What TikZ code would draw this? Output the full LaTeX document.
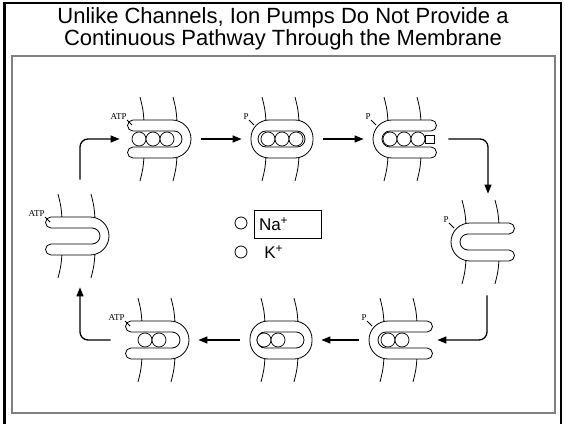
\documentclass[tikz,border=0pt]{standalone}
\usepackage{fontspec}
\setmainfont{Liberation Sans}
\newfontfamily\tagfont{Liberation Serif}
\usepackage{tikz}
\usetikzlibrary{arrows.meta}
\usetikzlibrary{calc}

\tikzset{
	pump/.style={inner sep=0pt, minimum width=62pt, minimum height=84pt},
	tag/.style={inner sep=0pt, anchor=south east, font=\tagfont\fontsize{9}{9}\selectfont},
	bead/.style={fill=white, line width=0.7pt},
	flow/.style={-{Triangle[length=9pt,width=7pt]}, line width=1.3pt, rounded corners=8pt, shorten <=10pt, shorten >=9pt},
	membrane/.pic={
		\draw (-20,42) .. controls (-17,30) .. (-16,18);
		\draw (-16,-18) .. controls (-17,-30) .. (-20,-42);
		\draw (13,42) .. controls (16,30) .. (17,18);
		\draw (17,-18) .. controls (16,-30) .. (13,-42);
	},
	closed pump/.pic={
		\draw [fill=white, rounded corners=18pt] (-31,-19) rectangle (31,19);
		\draw [rounded corners=8pt] (-24,-8) rectangle (23,8);
	},
	open pump/.pic={
		\draw [fill=white] (-27,8) -- (14,8) arc [start angle=90, end angle=-90, radius=8]
			-- (-27,-8) arc [start angle=90, end angle=270, radius=5.5]
			-- (12,-19) arc [start angle=-90, end angle=90, radius=19]
			-- (-27,19) arc [start angle=90, end angle=270, radius=5.5] -- cycle;
	},
}

\begin{document}
\begin{tikzpicture}[x=1pt, y=1pt, line width=0.8pt]
	\useasboundingbox (0,0) rectangle (565,424);
	% slide frame
	\draw [line width=3pt] (4,0) -- (4,421);
	\draw [line width=1.6pt] (3,421) -- (561,421) -- (561,0);
	\draw [gray, line width=1.5pt] (12,368) rectangle (555,11);
	\draw (283,395) node (title) [align=center, font=\fontsize{22}{20}\selectfont] {Unlike Channels, Ion Pumps Do Not Provide a\\Continuous Pathway Through the Membrane};

	% pumps round the cycle
	\foreach \n/\x/\y in {1/160/285, 2/282/285, 3/404/285, 4/482/182, 5/400/84, 6/281/84, 7/158/84, 8/78/188} {
		\draw (\x,\y) node (p\n) [pump] {};
		\pic at (p\n) {membrane};
	}
	\pic at (p1) {open pump};
	\pic at (p2) {closed pump};
	\pic [xscale=-1] at (p3) {open pump};
	\pic [xscale=-1] at (p4) {open pump};
	\pic [xscale=-1] at (p5) {open pump};
	\pic at (p6) {closed pump};
	\pic at (p7) {open pump};
	\pic at (p8) {open pump};
	\foreach \i in {-21,-7,7} \draw [bead] ($(p1)+(\i,0)$) circle [radius=7];
	\foreach \i in {-14,0,14} \draw [bead] ($(p2)+(\i,0)$) circle [radius=7];
	\foreach \i in {-14,0,14} \draw [bead] ($(p3)+(\i,0)$) circle [radius=7];
	\draw [bead] ($(p3)+(21,-4)$) rectangle ($(p3)+(30,4)$);
	\foreach \i in {-12,2} \draw [bead] ($(p5)+(\i,0)$) circle [radius=7];
	\foreach \i in {-17,-3} \draw [bead] ($(p6)+(\i,0)$) circle [radius=7];
	\foreach \i in {-13,1} \draw [bead] ($(p7)+(\i,0)$) circle [radius=7];

	% ATP and P tags
	\foreach \n/\t in {1/ATP, 2/P, 3/P, 4/P, 5/P, 7/ATP, 8/ATP} {
		\draw ($(p\n)+(-33,19)$) node (t\n) [tag] {\t};
		\draw (t\n.south east) -- ++(5,-5);
	}

	% steps
	\draw [flow] (p1.east) -- (p2.west);
	\draw [flow] (p2.east) -- (p3.west);
	\draw [flow, shorten <=13pt, shorten >=6pt] (p3.east) -| ([xshift=6pt]p4.north);
	\draw [flow, shorten <=11pt, shorten >=6pt] ([xshift=5pt]p4.south) |- (p5.east);
	\draw [flow] (p5.west) -- (p6.east);
	\draw [flow] (p6.west) -- (p7.east);
	\draw [flow, shorten <=16pt] (p7.west) -| ([xshift=2pt]p8.south);
	\draw [flow, shorten <=14pt] ([xshift=2pt]p8.north) |- (p1.west);

	% key
	\draw (241,201) node (na) [circle, draw, minimum size=12pt, inner sep=0pt] {};
	\draw (241,172) node (k) [circle, draw, minimum size=12pt, inner sep=0pt] {};
	\draw (287.5,200) node (nabox) [draw, minimum height=28pt, inner sep=5pt, text width=57pt, align=left, font=\fontsize{17}{17}\selectfont] {Na\textsuperscript{+}};
	\draw (264,172) node (kt) [anchor=west, inner sep=0pt, font=\fontsize{17}{17}\selectfont] {K\textsuperscript{+}};
\end{tikzpicture}
\end{document}
